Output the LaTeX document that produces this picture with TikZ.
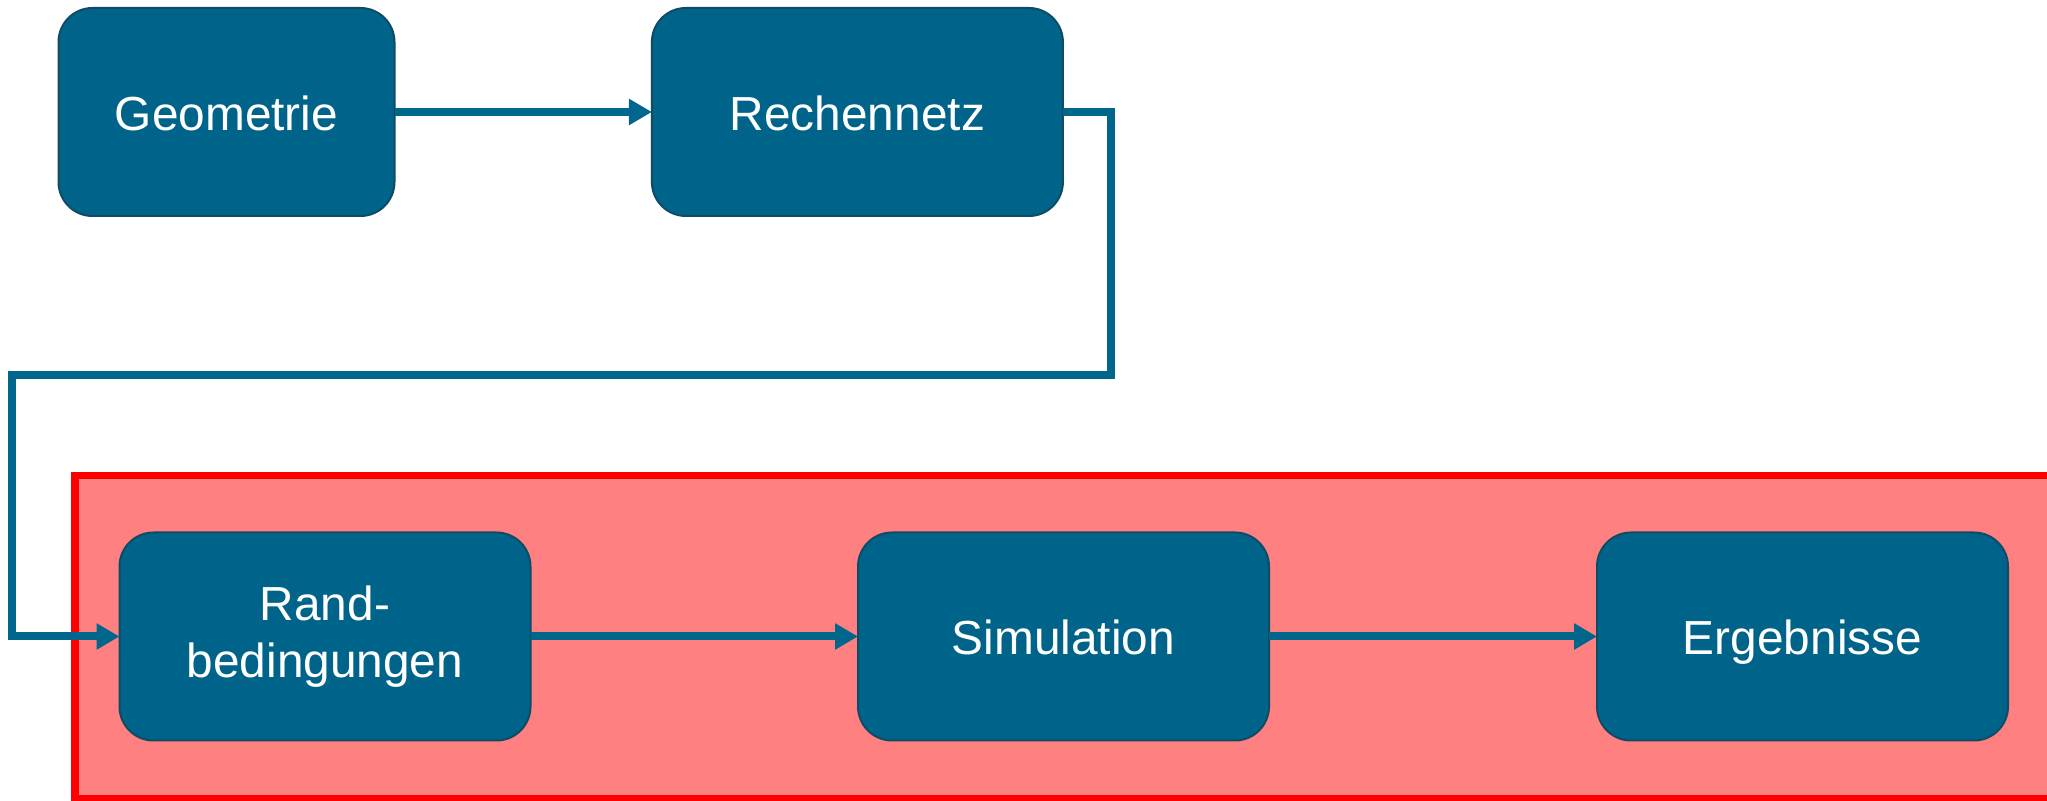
\documentclass[tikz,border=0pt]{standalone}
\usepackage{fontspec}
\setmainfont{Liberation Sans}
\usetikzlibrary{arrows.meta}
\definecolor{boxfill}{RGB}{0,100,138}
\definecolor{boxedge}{RGB}{14,76,102}
\definecolor{flow}{RGB}{0,102,140}
\definecolor{zonefill}{RGB}{255,128,128}
\definecolor{zoneedge}{RGB}{255,0,0}
\tikzset{
  stepbox/.style={draw=boxedge, line width=1pt, fill=boxfill, rounded corners=17pt,
    text=white, align=center, minimum height=104pt, inner sep=0pt, outer sep=0pt,
    font=\fontsize{23.9}{28.6}\selectfont},
  oneline/.style={text height=21pt, text depth=2.5pt},
  flowline/.style={draw=flow, line width=4pt},
  flowarrow/.style={flowline, -{Triangle[length=11.5pt,width=12.5pt]}},
}
\begin{document}
\begin{tikzpicture}[x=0.5pt, y=-0.5pt]
  \useasboundingbox (0,0) rectangle (2047,801);

  % highlighted simulation zone
  \draw[fill=zonefill, draw=zoneedge, line width=3.8pt]
    (75,475.5) rectangle (2070,799);

  % process steps
  \node[stepbox, oneline, minimum width=168pt] (geo) at (226.5,112) {Geometrie};
  \node[stepbox, oneline, minimum width=205.5pt] (rech) at (857.4,112) {Rechennetz};
  \node[stepbox, minimum width=205.5pt] (rand) at (325,636.5) {Rand-\\bedingungen};
  \node[stepbox, oneline, minimum width=205.5pt] (sim) at (1063.5,636.5) {Simulation};
  \node[stepbox, oneline, minimum width=205.5pt] (erg) at (1802.5,636.5) {Ergebnisse};

  % routing points of the return connector
  \coordinate (turnA) at (1111,375);
  \coordinate (turnB) at (12,375);

  % connectors
  \draw[flowarrow] (geo.east) -- (rech.west);
  \draw[flowarrow] (rech.east) -| (turnA) -- (turnB) |- (rand.west);
  \draw[flowarrow] (rand.east) -- (sim.west);
  \draw[flowarrow] (sim.east) -- (erg.west);
\end{tikzpicture}
\end{document}
